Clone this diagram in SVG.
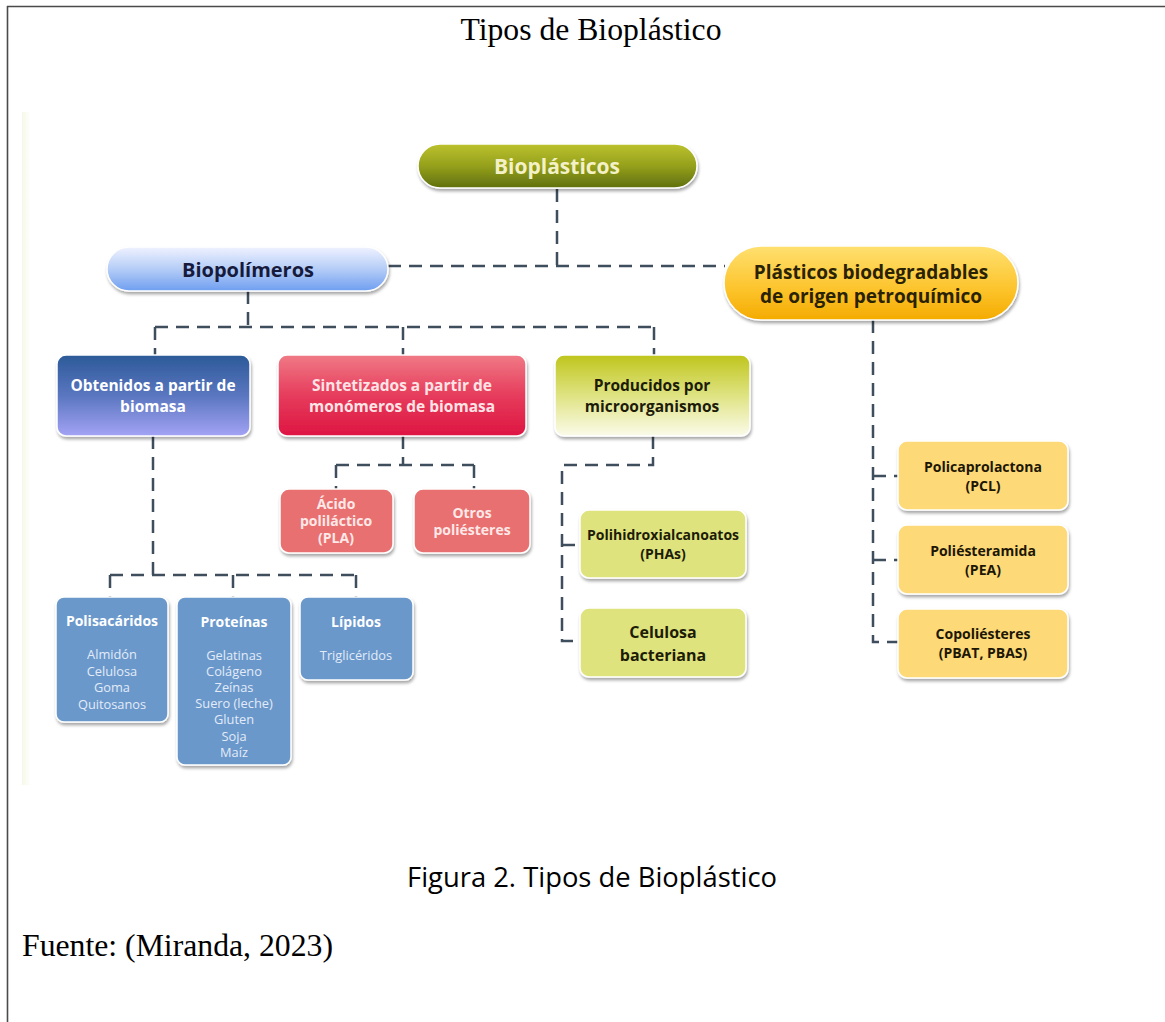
<svg xmlns="http://www.w3.org/2000/svg" width="1165" height="1022" viewBox="0 0 1165 1022">
<defs>
<style>
.t{font-family:"Open Sans","Noto Sans",sans-serif;font-weight:bold;text-anchor:middle}
.it{font-family:"Open Sans","Noto Sans",sans-serif;font-weight:normal;text-anchor:middle;fill:#e3ebf7;font-size:12.8px}
.serif{font-family:"Liberation Serif","Times New Roman",serif;fill:#000}
.box{stroke:#ffffff;stroke-width:1.5;filter:url(#sh)}
.dash{fill:none;stroke:#3e4e5c;stroke-width:2.5;stroke-dasharray:13 8}
</style>
<filter id="sh" x="-10%" y="-10%" width="125%" height="130%">
<feDropShadow dx="1" dy="2.5" stdDeviation="1.8" flood-color="#000" flood-opacity="0.35"/>
</filter>
<linearGradient id="gOlive" x1="0" y1="0" x2="0" y2="1">
<stop offset="0" stop-color="#bcc22e"/><stop offset="0.5" stop-color="#95a01c"/><stop offset="1" stop-color="#5f700e"/>
</linearGradient>
<linearGradient id="gBlueP" x1="0" y1="0" x2="0" y2="1">
<stop offset="0" stop-color="#f0f2ff"/><stop offset="0.5" stop-color="#b5cdf7"/><stop offset="1" stop-color="#6e9ef0"/>
</linearGradient>
<linearGradient id="gOrange" x1="0" y1="0" x2="0" y2="1">
<stop offset="0" stop-color="#ffe070"/><stop offset="0.6" stop-color="#fcc32a"/><stop offset="1" stop-color="#f4ab00"/>
</linearGradient>
<linearGradient id="gObt" x1="0" y1="0" x2="0" y2="1">
<stop offset="0" stop-color="#2c5a98"/><stop offset="0.5" stop-color="#5a76c0"/><stop offset="1" stop-color="#a3a3f4"/>
</linearGradient>
<linearGradient id="gSin" x1="0" y1="0" x2="0" y2="1">
<stop offset="0" stop-color="#f07a86"/><stop offset="0.5" stop-color="#e63c5c"/><stop offset="1" stop-color="#de1542"/>
</linearGradient>
<linearGradient id="gPro" x1="0" y1="0" x2="0" y2="1">
<stop offset="0" stop-color="#bfc51c"/><stop offset="0.5" stop-color="#dfe382"/><stop offset="1" stop-color="#fbfbea"/>
</linearGradient>
<linearGradient id="gEdge" x1="0" y1="0" x2="1" y2="0">
<stop offset="0" stop-color="#f6f8e6"/><stop offset="1" stop-color="#ffffff"/>
</linearGradient>
</defs>
<rect x="0" y="0" width="1165" height="1022" fill="#ffffff"/>
<path d="M7 6.5 H1165 M7.5 6 V1022" stroke="#4a4a4a" stroke-width="1.6" fill="none"/>
<rect x="22" y="112" width="9" height="673" fill="url(#gEdge)"/>

<text class="serif" x="591" y="40" font-size="32" text-anchor="middle" textLength="261" lengthAdjust="spacingAndGlyphs">Tipos de Bioplástico</text>

<g id="connectors">
<path class="dash" d="M557 189 V266"/>
<path class="dash" d="M388 266 H725"/>
<path class="dash" d="M248 291 V327"/>
<path class="dash" d="M155 327 H654"/>
<path class="dash" d="M155 327 V355 M403 327 V355 M654 327 V355"/>
<path class="dash" d="M153 436 V575"/>
<path class="dash" d="M110 575 H356"/>
<path class="dash" d="M110 575 V597 M233 575 V597 M356 575 V597"/>
<path class="dash" d="M403 436 V465"/>
<path class="dash" d="M336 465 H474"/>
<path class="dash" d="M336 465 V489 M474 465 V489"/>
<path class="dash" d="M653 436 V465 H562 V641 H580"/>
<path class="dash" d="M562 545 H580"/>
<path class="dash" d="M873 320 V642 H898"/>
<path class="dash" d="M873 476 H898 M873 560 H898"/>
</g>

<g id="bioplasticos">
<rect class="box" x="418" y="144" width="279" height="44" rx="22" fill="url(#gOlive)"/>
<text class="t" x="557" y="174" font-size="21" fill="#f4f1c6">Bioplásticos</text>
</g>
<g id="biopolimeros">
<rect class="box" x="107" y="247" width="281" height="44" rx="22" fill="url(#gBlueP)"/>
<text class="t" x="248" y="277" font-size="20" fill="#161a3c">Biopolímeros</text>
</g>
<g id="plasticos-petro">
<rect class="box" x="724" y="246" width="294" height="74" rx="37" fill="url(#gOrange)"/>
<text class="t" x="871" y="279" font-size="19" fill="#2a2204">Plásticos biodegradables</text>
<text class="t" x="871" y="303" font-size="19" fill="#2a2204">de origen petroquímico</text>
</g>
<g id="obtenidos">
<rect class="box" x="57" y="355" width="193" height="81" rx="9" fill="url(#gObt)"/>
<text class="t" x="153" y="391" font-size="15.5" fill="#ffffff">Obtenidos a partir de</text>
<text class="t" x="153" y="412" font-size="15.5" fill="#ffffff">biomasa</text>
</g>
<g id="sintetizados">
<rect class="box" x="278" y="355" width="248" height="81" rx="9" fill="url(#gSin)"/>
<text class="t" x="402" y="391" font-size="15.5" fill="#ffe4e6">Sintetizados a partir de</text>
<text class="t" x="402" y="412" font-size="15.5" fill="#ffe4e6">monómeros de biomasa</text>
</g>
<g id="producidos">
<rect class="box" x="555" y="355" width="195" height="81" rx="9" fill="url(#gPro)"/>
<text class="t" x="652" y="391" font-size="15.5" fill="#1c1c08">Producidos por</text>
<text class="t" x="652" y="412" font-size="15.5" fill="#1c1c08">microorganismos</text>
</g>
<g id="acido-polilactico">
<rect class="box" x="280" y="489" width="113" height="64" rx="9" fill="#e8706f"/>
<text class="t" x="336" y="509" font-size="14" fill="#ffe8e8">Ácido</text>
<text class="t" x="336" y="526" font-size="14" fill="#ffe8e8">poliláctico</text>
<text class="t" x="336" y="543" font-size="14" fill="#ffe8e8">(PLA)</text>
</g>
<g id="otros-poliesteres">
<rect class="box" x="414" y="489" width="116" height="64" rx="9" fill="#e8706f"/>
<text class="t" x="472" y="518" font-size="14" fill="#ffe8e8">Otros</text>
<text class="t" x="472" y="535" font-size="14" fill="#ffe8e8">poliésteres</text>
</g>
<g id="polisacaridos">
<rect class="box" x="56" y="597" width="112" height="125" rx="8" fill="#6a98cb"/>
<text class="t" x="112" y="626" font-size="14" fill="#ffffff">Polisacáridos</text>
<text class="it" x="112" y="659">Almidón</text>
<text class="it" x="112" y="675.5">Celulosa</text>
<text class="it" x="112" y="692">Goma</text>
<text class="it" x="112" y="708.5">Quitosanos</text>
</g>
<g id="proteinas">
<rect class="box" x="177" y="597" width="114" height="168" rx="8" fill="#6a98cb"/>
<text class="t" x="234" y="627" font-size="14" fill="#ffffff">Proteínas</text>
<text class="it" x="234" y="660">Gelatinas</text>
<text class="it" x="234" y="676">Colágeno</text>
<text class="it" x="234" y="692">Zeínas</text>
<text class="it" x="234" y="708">Suero (leche)</text>
<text class="it" x="234" y="724">Gluten</text>
<text class="it" x="234" y="741">Soja</text>
<text class="it" x="234" y="757">Maíz</text>
</g>
<g id="lipidos">
<rect class="box" x="300" y="597" width="113" height="83" rx="8" fill="#6a98cb"/>
<text class="t" x="356" y="627" font-size="14" fill="#ffffff">Lípidos</text>
<text class="it" x="356" y="660">Triglicéridos</text>
</g>
<g id="phas">
<rect class="box" x="580" y="510" width="166" height="68" rx="9" fill="#dfe37d"/>
<text class="t" x="663" y="540" font-size="14" fill="#1c1c08">Polihidroxialcanoatos</text>
<text class="t" x="663" y="559" font-size="14" fill="#1c1c08">(PHAs)</text>
</g>
<g id="celulosa-bacteriana">
<rect class="box" x="580" y="608" width="166" height="69" rx="9" fill="#dfe37d"/>
<text class="t" x="663" y="638" font-size="16" fill="#1c1c08">Celulosa</text>
<text class="t" x="663" y="661" font-size="16" fill="#1c1c08">bacteriana</text>
</g>
<g id="pcl">
<rect class="box" x="898" y="441" width="170" height="69" rx="9" fill="#fdd978"/>
<text class="t" x="983" y="472" font-size="14" fill="#1c1604">Policaprolactona</text>
<text class="t" x="983" y="491" font-size="14" fill="#1c1604">(PCL)</text>
</g>
<g id="pea">
<rect class="box" x="898" y="525" width="170" height="69" rx="9" fill="#fdd978"/>
<text class="t" x="983" y="556" font-size="14" fill="#1c1604">Poliésteramida</text>
<text class="t" x="983" y="575" font-size="14" fill="#1c1604">(PEA)</text>
</g>
<g id="copoliesteres">
<rect class="box" x="898" y="609" width="170" height="69" rx="9" fill="#fdd978"/>
<text class="t" x="983" y="639" font-size="14" fill="#1c1604">Copoliésteres</text>
<text class="t" x="983" y="658" font-size="14" fill="#1c1604">(PBAT, PBAS)</text>
</g>

<text x="592" y="887" font-family="'Open Sans','Noto Sans',sans-serif" font-size="27" fill="#000" text-anchor="middle" textLength="370" lengthAdjust="spacingAndGlyphs">Figura 2. Tipos de Bioplástico</text>
<text class="serif" x="22" y="956" font-size="31" textLength="311" lengthAdjust="spacingAndGlyphs">Fuente: (Miranda, 2023)</text>
</svg>
